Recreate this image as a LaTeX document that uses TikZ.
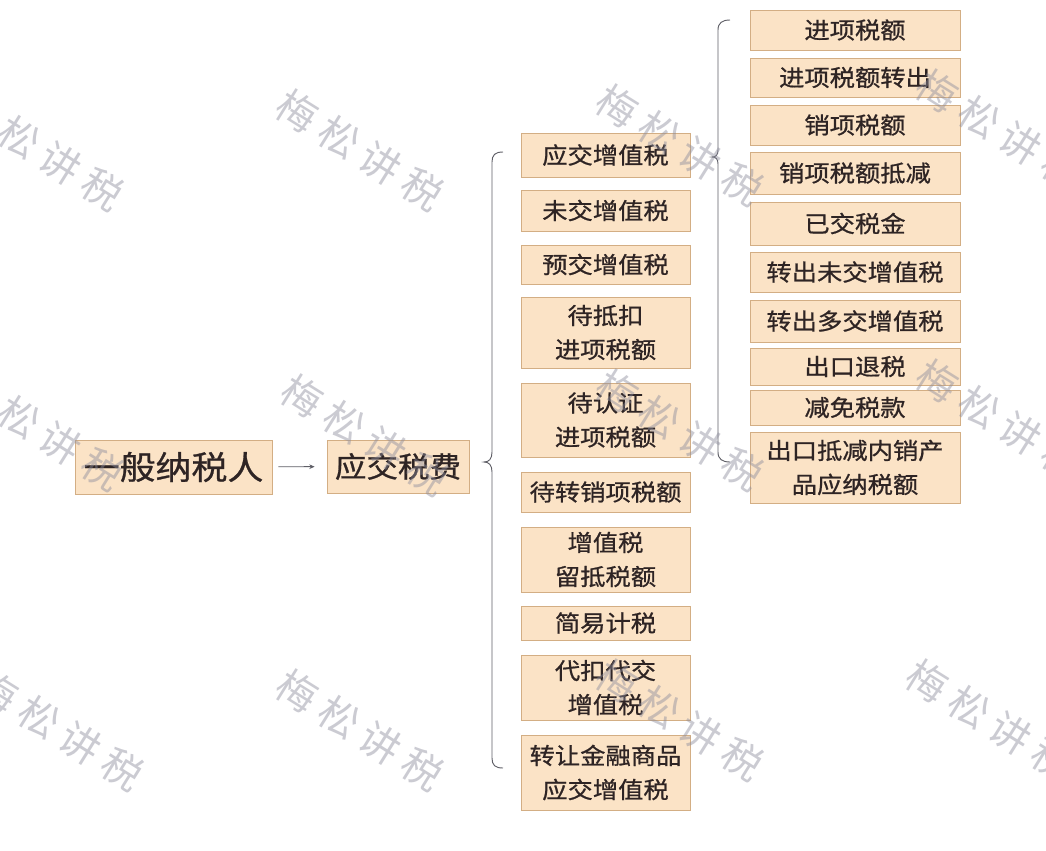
\documentclass[tikz,border=0pt]{standalone}
\usepackage{fontspec}
\setmainfont[FakeStretch=1.1,FakeBold=0.8]{Noto Sans CJK SC}
\newfontfamily\wmfont{Noto Sans CJK SC}
\usetikzlibrary{arrows.meta}
\definecolor{boxfill}{HTML}{FBE3C6}
\definecolor{boxdraw}{HTML}{D3AE84}
\definecolor{txt}{HTML}{2E2424}
\definecolor{wm}{HTML}{8C8C9C}
\definecolor{linec}{HTML}{5E5E66}
\tikzset{
 box/.style={draw=boxdraw, fill=boxfill, line width=0.6pt, inner sep=0pt, align=center, text=txt, font=\fontsize{17.25pt}{25.5pt}\selectfont},
 bigbox/.style={box, font=\fontsize{24.5pt}{30pt}\selectfont},
 midbox/.style={box, font=\fontsize{21.5pt}{30pt}\selectfont},
 conn/.style={draw=linec, line width=0.7pt},
 wmark/.style={text=wm, opacity=0.45, rotate=-32, inner sep=0pt, font=\wmfont\fontsize{30pt}{30pt}\selectfont},
}
\newcommand\wmtext{梅\hspace{7pt}松\hspace{7pt}讲\hspace{7pt}税}
\begin{document}
\begin{tikzpicture}[x=0.75pt,y=-0.75pt]
\useasboundingbox (0,0) rectangle (1046,850);
\fill[white] (0,0) rectangle (1046,850);
\clip (0,0) rectangle (1046,850);

% level 0 and 1
\node[bigbox, minimum width=147.75pt, minimum height=40.5pt] (gen) at (173.5,467) {一般纳税人};
\node[midbox, minimum width=106.5pt, minimum height=39.75pt] (ytf) at (398,466.5) {应交税费};
\draw[conn, -{Stealth[length=4pt,width=3.5pt]}, shorten <=4.5pt, shorten >=9pt] (gen) -- (ytf);

% level 2
\node[box, minimum width=126.75pt, minimum height=33pt]    (m1)  at (605.5,155)   {应交增值税};
\node[box, minimum width=126.75pt, minimum height=30.75pt] (m2)  at (605.5,210.5) {未交增值税};
\node[box, minimum width=126.75pt, minimum height=29.25pt] (m3)  at (605.5,264.5) {预交增值税};
\node[box, minimum width=126.75pt, minimum height=53.25pt] (m4)  at (605.5,332.5) {待抵扣\\进项税额};
\node[box, minimum width=126.75pt, minimum height=55.5pt]  (m5)  at (605.5,420)   {待认证\\进项税额};
\node[box, minimum width=126.75pt, minimum height=30pt]    (m6)  at (605.5,492)   {待转销项税额};
\node[box, minimum width=126.75pt, minimum height=48.75pt] (m7)  at (605.5,559.5) {增值税\\留抵税额};
\node[box, minimum width=126.75pt, minimum height=25.5pt]  (m8)  at (605.5,623)   {简易计税};
\node[box, minimum width=126.75pt, minimum height=48.75pt] (m9)  at (605.5,687.5) {代扣代交\\增值税};
\node[box, minimum width=126.75pt, minimum height=56.25pt] (m10) at (605.5,772.5) {转让金融商品\\应交增值税};

% level 3
\node[box, minimum width=157.5pt, minimum height=30pt]    (r1)  at (855,30)    {进项税额};
\node[box, minimum width=157.5pt, minimum height=29.25pt] (r2)  at (855,77.5)  {进项税额转出};
\node[box, minimum width=157.5pt, minimum height=30pt]    (r3)  at (855,125)   {销项税额};
\node[box, minimum width=157.5pt, minimum height=31.5pt]  (r4)  at (855,173)   {销项税额抵减};
\node[box, minimum width=157.5pt, minimum height=32.25pt] (r5)  at (855,223.5) {已交税金};
\node[box, minimum width=157.5pt, minimum height=30pt]    (r6)  at (855,272)   {转出未交增值税};
\node[box, minimum width=157.5pt, minimum height=31.5pt]  (r7)  at (855,321)   {转出多交增值税};
\node[box, minimum width=157.5pt, minimum height=27.75pt] (r8)  at (855,366.5) {出口退税};
\node[box, minimum width=157.5pt, minimum height=26.25pt] (r9)  at (855,407.5) {减免税款};
\node[box, minimum width=157.5pt, minimum height=53.25pt] (r10) at (855,467.5) {出口抵减内销产\\品应纳税额};

% braces
\coordinate (bt1) at (484,462);
\coordinate (bs1) at (503,152);
\coordinate (be1) at (503,768);
\draw[conn] (bs1) .. controls (495,152) and (492,155) .. (492,162) -- (492,452)
  .. controls (492,459) and (489,462) .. (bt1)
  .. controls (489,462) and (492,465) .. (492,472) -- (492,758)
  .. controls (492,765) and (495,768) .. (be1);
\coordinate (bt2) at (712,157);
\coordinate (bs2) at (730,20);
\coordinate (be2) at (730,462);
\draw[conn] (bs2) .. controls (722,20) and (718,23) .. (718,30) -- (718,150)
  .. controls (718,155) and (716,157) .. (bt2)
  .. controls (716,157) and (718,159) .. (718,164) -- (718,452)
  .. controls (718,459) and (722,462) .. (be2);

% watermarks
\foreach \p [count=\i] in {(40,150),(360,150),(680,145),(1000,130),(40,430),(365,435),(680,430),(1000,420),(60,730),(360,730),(680,720),(990,720)}
  \node[wmark] (wm\i) at \p {\wmtext};
\end{tikzpicture}
\end{document}
